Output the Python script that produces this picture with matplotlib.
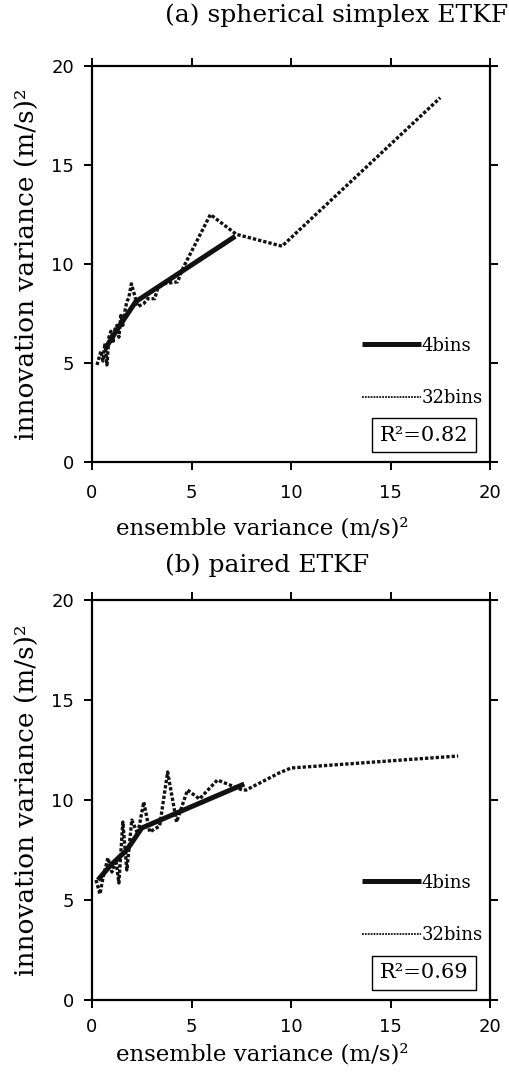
import matplotlib
matplotlib.use("Agg")
import matplotlib.pyplot as plt
from matplotlib.lines import Line2D

# (a) spherical simplex ETKF
a_x4 = [0.65, 1.4, 2.2, 7.2]
a_y4 = [5.7, 6.9, 8.1, 11.4]
a_x32 = [0.25, 0.45, 0.55, 0.65, 0.75, 0.85, 0.95, 1.05, 1.15, 1.25, 1.35,
         1.45, 1.55, 1.65, 1.75, 1.85, 1.98, 2.3, 2.6, 2.8, 3.15, 3.3, 3.6,
         4.3, 4.55, 5.95, 7.25, 9.55, 17.5]
a_y32 = [4.9, 5.6, 5.1, 6.0, 4.9, 6.3, 6.6, 6.0, 6.7, 6.9, 6.3,
         7.4, 6.9, 7.6, 8.1, 8.3, 9.0, 7.85, 8.0, 8.25, 8.25, 8.75, 9.0,
         9.1, 9.75, 12.5, 11.5, 10.9, 18.4]
a_r2 = "0.82"

# (b) paired ETKF
b_x4 = [0.3, 0.9, 1.75, 2.5, 7.65]
b_y4 = [6.0, 6.7, 7.5, 8.6, 10.8]
b_x32 = [0.2, 0.4, 0.55, 0.8, 1.0, 1.2, 1.35, 1.55, 1.75, 2.0, 2.3, 2.6,
         2.9, 3.4, 3.8, 4.25, 4.8, 5.4, 6.3, 7.55, 7.75, 9.4, 10.0, 18.4]
b_y32 = [6.0, 5.3, 6.1, 7.1, 6.4, 7.0, 5.85, 8.9, 6.5, 9.0, 8.3, 9.9,
         8.4, 8.7, 11.4, 8.9, 10.5, 10.05, 11.0, 10.5, 10.5, 11.35, 11.6, 12.2]
b_r2 = "0.69"

panels = [
    ("(a) spherical simplex ETKF", a_x4, a_y4, a_x32, a_y32, a_r2),
    ("(b) paired ETKF", b_x4, b_y4, b_x32, b_y32, b_r2),
]

SERIF = "DejaVu Serif"
INK = "#111111"
dot_style = (0, (1.0, 0.6))

fig = plt.figure(figsize=(5.10, 10.78), dpi=100)
axes_boxes = [
    [92 / 510, 1 - 462 / 1078, 398 / 510, 396 / 1078],
    [92 / 510, 1 - 1000 / 1078, 398 / 510, 400 / 1078],
]
title_y = [1 - 15 / 1078, 1 - 565 / 1078]
xtick_pad = [10, 7]
xlabel_y = [-0.14, -0.108]

for i, (title, x4, y4, x32, y32, r2) in enumerate(panels):
    ax = fig.add_axes(axes_boxes[i])
    ax.plot(x32, y32, color=INK, lw=2.4, linestyle=dot_style)
    ax.plot(x4, y4, color=INK, lw=3.6, solid_capstyle="butt")

    ax.set_xlim(0, 20)
    ax.set_ylim(0, 20)
    ax.set_xticks([0, 5, 10, 15, 20])
    ax.set_yticks([0, 5, 10, 15, 20])
    ax.tick_params(direction="out", length=6, width=1.4, labelsize=13,
                   top=True, right=True, pad=7)
    ax.tick_params(axis="x", pad=xtick_pad[i])
    for lab in ax.get_xticklabels() + ax.get_yticklabels():
        lab.set_family("DejaVu Sans")
    for sp in ax.spines.values():
        sp.set_linewidth(1.6)

    ax.set_xlabel("ensemble variance (m/s)²", family=SERIF, fontsize=16.5)
    ax.xaxis.set_label_coords(0.427, xlabel_y[i])
    ax.set_ylabel("innovation variance (m/s)²", family=SERIF, fontsize=19,
                  labelpad=8)
    fig.text(165 / 510, title_y[i], title, family=SERIF, fontsize=18,
             ha="left", va="center")

    handles = [
        Line2D([], [], color=INK, lw=3.6, solid_capstyle="butt"),
        Line2D([], [], color=INK, lw=1.3, linestyle=(0, (1.0, 0.6))),
    ]
    ax.legend(handles, ["4bins", "32bins"], loc="center left",
              bbox_to_anchor=(0.678, 0.228), frameon=False, borderpad=0,
              borderaxespad=0, handlelength=3.3, handletextpad=0,
              labelspacing=1.9, prop={"family": SERIF, "size": 13})
    ax.text(0.834, 0.068, "R²=" + r2, transform=ax.transAxes,
            ha="center", va="center", family=SERIF, fontsize=15,
            bbox=dict(boxstyle="square,pad=0.36", fc="white", ec="black",
                      lw=1.0))

fig.savefig("out.png", dpi=100)
